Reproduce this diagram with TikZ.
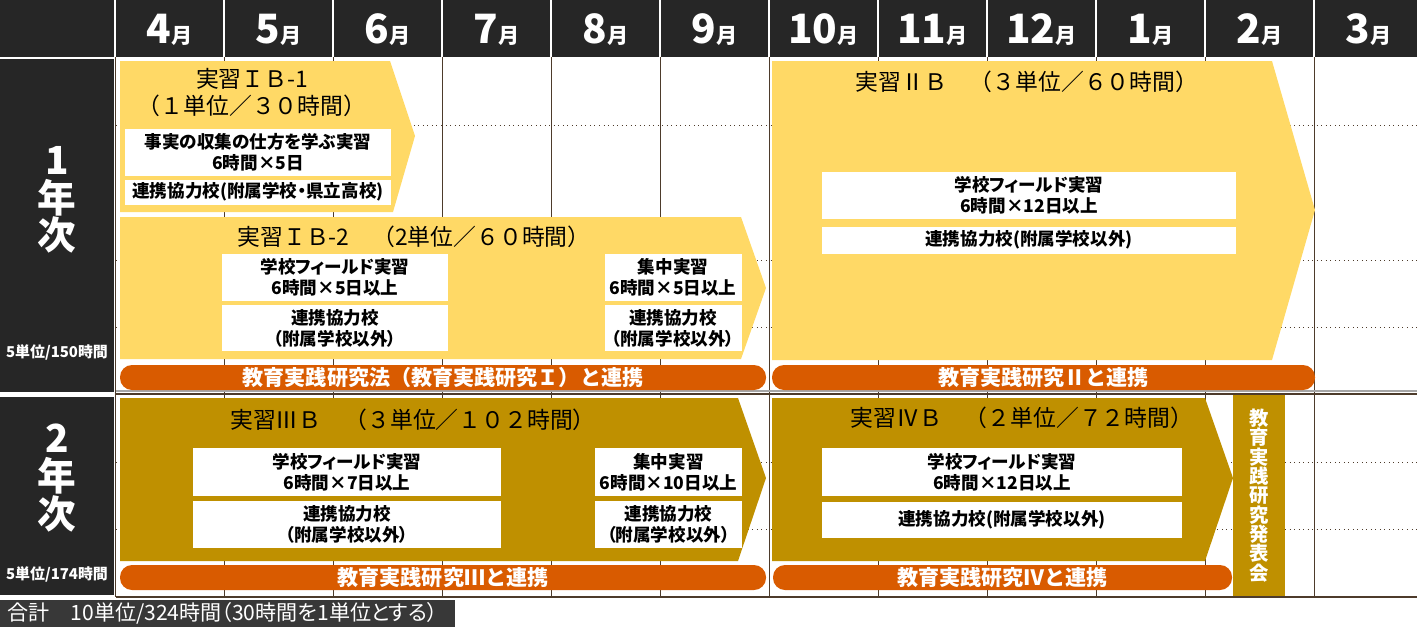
\documentclass[tikz,border=0pt]{standalone}
\usepackage{fontspec}
\setmainfont{Noto Sans CJK JP}
\newfontfamily\pfont{Noto Sans CJK JP}[RawFeature=+palt]
\usetikzlibrary{positioning}
\definecolor{headdark}{HTML}{262626}
\definecolor{totaldark}{HTML}{383838}
\definecolor{paleyellow}{HTML}{FFD966}
\definecolor{darkgold}{HTML}{BF9000}
\definecolor{rust}{HTML}{D95B00}
\definecolor{gridbrown}{HTML}{4D3B2B}
\def\fs#1#2{\fontsize{#1}{#2}\selectfont}
\def\arrowIBone{(120,61) -- (390,61) -- (415,136) -- (393,212) -- (120,212) -- cycle}
\def\arrowIBtwo{(120,217) -- (741,217) -- (766,288) -- (741,359) -- (120,359) -- cycle}
\def\arrowIIB{(772,61) -- (1272,61) -- (1315,210) -- (1272,360) -- (772,360) -- cycle}
\def\arrowIIIB{(120,398) -- (738,398) -- (766,478) -- (738,561) -- (120,561) -- cycle}
\def\arrowIVB{(772,398) -- (1205,398) -- (1233,478) -- (1205,561) -- (772,561) -- cycle}
\tikzset{
  titletext/.style={align=center,inner sep=0pt,font=\fs{13}{15.5}},
  wbox/.style 2 args={fill=white,inner sep=0pt,align=center,
    minimum width=#1*0.02cm,minimum height=#2*0.02cm,font=\pfont\bfseries\fs{10}{12}},
  linkbar/.style 2 args={fill=rust,rounded corners=0.24cm,text=white,inner sep=0pt,
    minimum width=#1*0.02cm,minimum height=#2*0.02cm,font=\bfseries\fs{12}{14}},
}

\begin{document}
\begin{tikzpicture}[x=0.02cm,y=-0.02cm]
  \useasboundingbox (0,0) rectangle (1417,632);
  % month header
  \fill[headdark] (0,0) rectangle (1417,57);
  \foreach \k in {0,...,11}
    \draw[white,line width=0.04cm] ({115+109*\k},0) -- ({115+109*\k},57);
  \foreach \m [count=\k from 0] in {4,...,12,1,2,3}
    \node[text=white,font=\bfseries] (m\m) at ({169.5+109*\k},30) {{\fs{23}{24}\m}{\fs{12}{13}月}};
  % year cells
  \fill[headdark] (0,59) rectangle (114,392);
  \fill[headdark] (0,397) rectangle (114,595);
  \node[text=white,align=center,font=\bfseries\fs{22}{21.5}] (yearone) at (57,200) {1\\年\\次};
  \node[text=white,font=\pfont\bfseries\fs{8.5}{10}] (unitsone) at (57,352) {5単位/150時間};
  \node[text=white,align=center,font=\bfseries\fs{22}{21.5}] (yeartwo) at (57,478) {2\\年\\次};
  \node[text=white,font=\pfont\bfseries\fs{8.5}{10}] (unitstwo) at (57,574) {5単位/174時間};
  % grid
  \foreach \k in {0,...,11}
    \draw[gridbrown,line width=0.02cm] ({115+109*\k},57) -- ({115+109*\k},597);
  \foreach \y in {125,260,327,462,529}
    \draw[gridbrown,dotted,line width=0.02cm] (116,\y) -- (1417,\y);
  \draw[gray!70,line width=0.03cm] (116,391) -- (1417,391);
  \draw[gridbrown,line width=0.04cm] (116,394) -- (1417,394);
  \draw[gridbrown,line width=0.04cm] (116,597) -- (1417,597);
  % practice arrows
  \fill[paleyellow] \arrowIBone;
  \fill[paleyellow] \arrowIBtwo;
  \fill[paleyellow] \arrowIIB;
  \fill[darkgold] \arrowIIIB;
  \fill[darkgold] \arrowIVB;
  \node[titletext] (titleIBone) at (252,92.5) {実習ＩＢ-1\\（１単位／３０時間）};
  \node[titletext] (titleIBtwo) at (414,237) {実習ＩＢ-2　（2単位／６０時間）};
  \node[titletext] (titleIIB) at (1027,82) {実習ⅡＢ　（３単位／６０時間）};
  \node[titletext] (titleIIIB) at (413,420) {実習ⅢＢ　（３単位／１０２時間）};
  \node[titletext] (titleIVB) at (1022,418) {実習ⅣＢ　（２単位／７２時間）};
  % boxes, year 1
  \node[wbox={266}{47}] (factbox) at (258,152.5) {事実の収集の仕方を学ぶ実習\\6時間×5日};
  \node[wbox={266}{25},below=0.06cm of factbox] (partnerIBone) {連携協力校(附属学校・県立高校)};
  \node[wbox={226}{47}] (fieldIBtwo) at (335,277) {学校フィールド実習\\6時間×5日以上};
  \node[wbox={226}{46},below=0.08cm of fieldIBtwo] (partnerIBtwo) {連携協力校\\（附属学校以外）};
  \node[wbox={137}{47}] (intensIBtwo) at (673,277) {集中実習\\6時間×5日以上};
  \node[wbox={137}{46},below=0.08cm of intensIBtwo] (partnerIBtwoR) {連携協力校\\（附属学校以外）};
  \node[wbox={414}{47}] (fieldIIB) at (1029,195.5) {学校フィールド実習\\6時間×12日以上};
  \node[wbox={414}{27},below=0.14cm of fieldIIB] (partnerIIB) {連携協力校(附属学校以外)};
  % boxes, year 2
  \node[wbox={308}{48}] (fieldIIIB) at (347,472) {学校フィールド実習\\6時間×7日以上};
  \node[wbox={308}{47},below=0.08cm of fieldIIIB] (partnerIIIB) {連携協力校\\（附属学校以外）};
  \node[wbox={147}{48}] (intensIIIB) at (668.5,472) {集中実習\\6時間×10日以上};
  \node[wbox={147}{47},below=0.08cm of intensIIIB] (partnerIIIBR) {連携協力校\\（附属学校以外）};
  \node[wbox={360}{48}] (fieldIVB) at (1002,472) {学校フィールド実習\\6時間×12日以上};
  \node[wbox={360}{36},below=0.1cm of fieldIVB] (partnerIVB) {連携協力校(附属学校以外)};
  % links to the research courses
  \node[linkbar={646}{25}] (linkone) at (443,377.5) {教育実践研究法（教育実践研究Ｉ）と連携};
  \node[linkbar={543}{25}] (linktwo) at (1043.5,377.5) {教育実践研究Ⅱと連携};
  \node[linkbar={646}{25}] (linkthree) at (443,577.5) {教育実践研究Ⅲと連携};
  \node[linkbar={459}{25}] (linkfour) at (1002.5,577.5) {教育実践研究Ⅳと連携};
  \node[fill=darkgold,text=white,align=center,inner sep=0pt,minimum width=52*0.02cm,
    minimum height=201*0.02cm,font=\bfseries\fs{11}{11}] (presentation) at (1259,495.5)
    {教\\育\\実\\践\\研\\究\\発\\表\\会};
  % total
  \fill[totaldark] (0,600) rectangle (455,627);
  \node[anchor=west,text=white,inner sep=0pt,font=\pfont\fs{12}{13}] (total) at (7,613.5)
    {合計　10単位/324時間（30時間を1単位とする）};
\end{tikzpicture}
\end{document}
